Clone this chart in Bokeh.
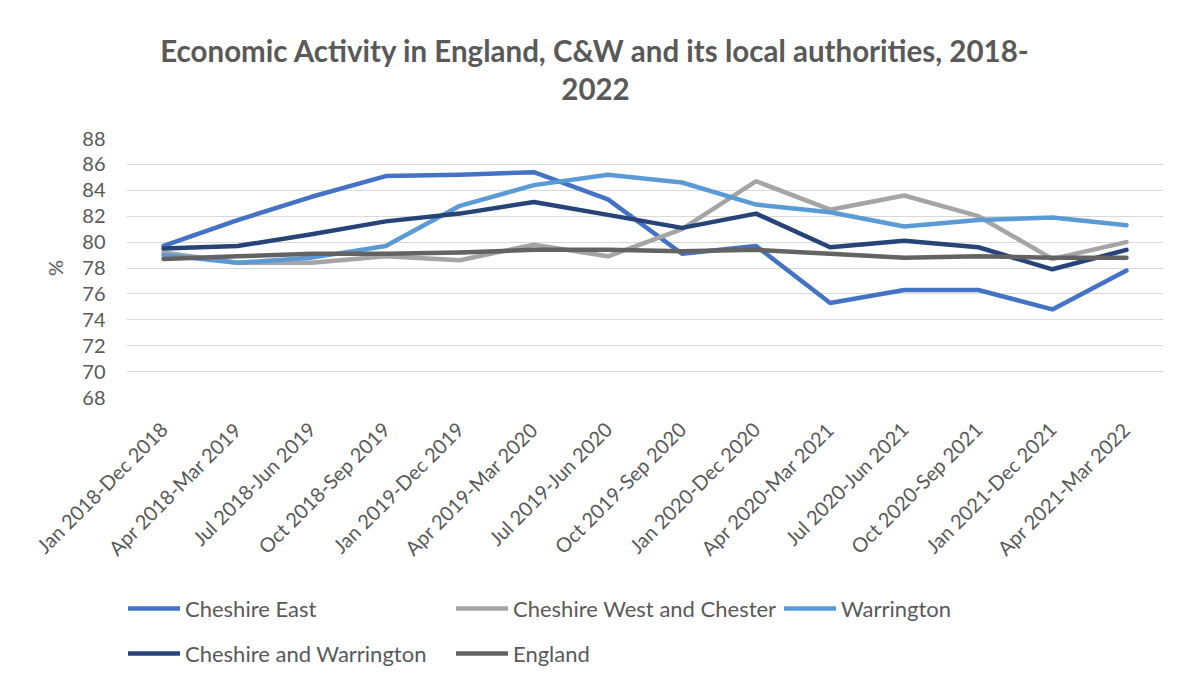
import math
from bokeh.plotting import figure
from bokeh.layouts import column
from bokeh.models import (FactorRange, Range1d, FixedTicker, Label, Legend, LegendItem)
from bokeh.embed import file_html
from bokeh.resources import INLINE

categories = ["Jan 2018-Dec 2018", "Apr 2018-Mar 2019", "Jul 2018-Jun 2019", "Oct 2018-Sep 2019",
              "Jan 2019-Dec 2019", "Apr 2019-Mar 2020", "Jul 2019-Jun 2020", "Oct 2019-Sep 2020",
              "Jan 2020-Dec 2020", "Apr 2020-Mar 2021", "Jul 2020-Jun 2021", "Oct 2020-Sep 2021",
              "Jan 2021-Dec 2021", "Apr 2021-Mar 2022"]

cheshire_east = [79.7, 81.7, 83.5, 85.1, 85.2, 85.4, 83.3, 79.1, 79.7, 75.3, 76.3, 76.3, 74.8, 77.8]
cheshire_west = [79.2, 78.4, 78.4, 78.9, 78.6, 79.8, 78.9, 81.0, 84.7, 82.5, 83.6, 82.0, 78.7, 80.0]
warrington = [79.0, 78.4, 78.8, 79.7, 82.8, 84.4, 85.2, 84.6, 82.9, 82.3, 81.2, 81.7, 81.9, 81.3]
cheshire_warrington = [79.5, 79.7, 80.6, 81.6, 82.2, 83.1, 82.1, 81.1, 82.2, 79.6, 80.1, 79.6, 77.9, 79.4]
england = [78.7, 78.9, 79.1, 79.1, 79.2, 79.4, 79.4, 79.3, 79.4, 79.1, 78.8, 78.9, 78.8, 78.8]

series_names = ["Cheshire East", "Cheshire West and Chester", "Warrington",
                "Cheshire and Warrington", "England"]
series_values = [cheshire_east, cheshire_west, warrington, cheshire_warrington, england]
series_colors = ["#4472C4", "#A5A5A5", "#5B9BD5", "#264478", "#636363"]

title_lines = ["Economic Activity in England, C&W and its local authorities, 2018-", "2022"]

y_ticks = list(range(68, 89, 2))

TXT = "#595959"
FONT = "Lato"
W = 1181

# ---------------- title strip ----------------
pt = figure(width=W, height=126, x_range=Range1d(0, 1), y_range=Range1d(0, 1),
            x_axis_location=None, y_axis_location=None, output_backend="svg",
            toolbar_location=None, min_border=0)
pt.grid.visible = False
pt.outline_line_color = None
for txt, yy in zip(title_lines, [76, 38]):
    pt.add_layout(Label(x=469, y=yy, x_units="screen", y_units="screen", text=txt,
                        text_align="center", text_baseline="middle", text_font=FONT,
                        text_font_size="29.5px", text_font_style="bold", text_color=TXT))

# ---------------- chart ----------------
p = figure(width=W, height=463, x_range=FactorRange(factors=categories),
           y_range=Range1d(68, 88), output_backend="svg", toolbar_location=None,
           min_border_left=126, min_border_right=18, min_border_top=12, min_border_bottom=192)
p.outline_line_color = None
p.background_fill_color = "white"
p.border_fill_color = "white"

renderers = []
for name, vals, col in zip(series_names, series_values, series_colors):
    r = p.line(x=categories, y=vals, line_color=col, line_width=4.5,
               line_cap="round", line_join="round")
    renderers.append(r)

p.yaxis.ticker = FixedTicker(ticks=y_ticks)
p.yaxis.axis_line_color = None
p.yaxis.major_tick_line_color = None
p.yaxis.minor_tick_line_color = None
p.yaxis.major_label_text_font = FONT
p.yaxis.major_label_text_font_size = "20px"
p.yaxis.major_label_text_color = TXT
p.yaxis.major_label_standoff = 15
p.yaxis.axis_label = "%"
p.yaxis.axis_label_text_font = FONT
p.yaxis.axis_label_text_font_size = "20px"
p.yaxis.axis_label_text_font_style = "normal"
p.yaxis.axis_label_text_color = TXT
p.yaxis.axis_label_standoff = 12

p.xaxis.axis_line_color = None
p.xaxis.major_tick_line_color = None
p.xaxis.minor_tick_line_color = None
p.xaxis.major_label_orientation = math.pi / 4
p.xaxis.major_label_text_font = FONT
p.xaxis.major_label_text_font_size = "20px"
p.xaxis.major_label_text_color = TXT
p.xaxis.major_label_standoff = 22

p.xgrid.grid_line_color = None
p.ygrid.grid_line_color = "#D9D9D9"
p.ygrid.grid_line_width = 1

# ---------------- legend strip ----------------
pl = figure(width=W, height=87, x_range=Range1d(0, 1), y_range=Range1d(0, 1),
            x_axis_location=None, y_axis_location=None, output_backend="svg",
            toolbar_location=None, min_border=0)
pl.grid.visible = False
pl.outline_line_color = None
proxies = []
for name, vals, col in zip(series_names, series_values, series_colors):
    # same series, drawn outside this strip's view: only their legend swatches show
    proxies.append(pl.line(x=list(range(len(vals))), y=vals, line_color=col,
                           line_width=4.5, line_cap="round"))

legend = Legend(items=[LegendItem(label=n, renderers=[r]) for n, r in zip(series_names, proxies)],
                location=(2, 4), orientation="horizontal", ncols=3,
                padding=0, margin=0, spacing=7,
                glyph_width=52, glyph_height=38, label_height=38, label_width=264,
                label_standoff=5, label_text_font=FONT, label_text_font_size="22px",
                label_text_color=TXT, border_line_color=None, background_fill_alpha=0)
pl.add_layout(legend, "center")

layout = column(pt, p, pl, spacing=0)
open("out.html", "w").write(file_html(layout, INLINE))
